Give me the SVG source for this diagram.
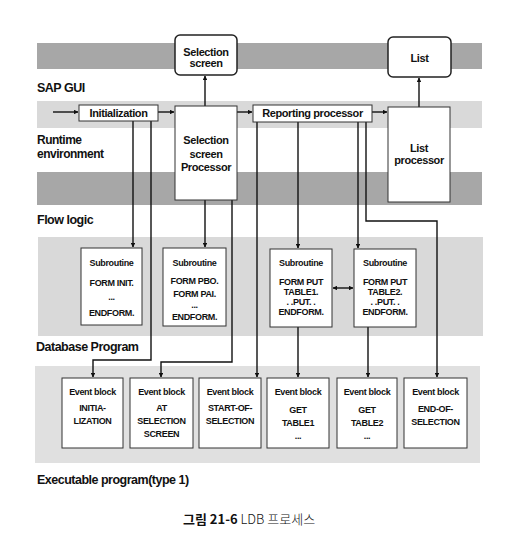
<svg xmlns="http://www.w3.org/2000/svg" width="510" height="555" viewBox="0 0 510 555">
<style>
.bg{fill:#ffffff}
.dark{fill:#a7a7a7}
.light{fill:#d9d9d9}
.lighter{fill:#e0e0e0}
.box{fill:#ffffff;stroke:#333333;stroke-width:1}
.rbox{fill:#ffffff;stroke:#222222;stroke-width:1.5}
.lbl{font-family:"Liberation Sans",Arial,sans-serif;font-weight:bold;font-size:12.5px;letter-spacing:-0.5px;fill:#111111}
.t{font-family:"Liberation Sans",Arial,sans-serif;font-weight:bold;font-size:11px;letter-spacing:-0.4px;fill:#111111;text-anchor:middle}
.s{font-family:"Liberation Sans",Arial,sans-serif;font-weight:bold;font-size:9px;letter-spacing:-0.35px;fill:#111111;text-anchor:middle}
.cap{font-family:"Noto Sans CJK KR","Liberation Sans",sans-serif;font-size:13px;fill:#111111}
.c{fill:none;stroke:#111111;stroke-width:1.4}
</style>
<defs>
<marker id="ah" viewBox="0 0 10 10" refX="9" refY="5" markerWidth="4.5" markerHeight="4.5" orient="auto-start-reverse" markerUnits="userSpaceOnUse">
<path d="M0,0 L10,5 L0,10 z" fill="#111111"/>
</marker>
</defs>
<rect class="bg" x="0" y="0" width="510" height="555"/>
<!-- bands -->
<rect class="dark" x="37" y="43" width="445" height="26"/>
<rect class="light" x="37" y="101" width="445" height="27"/>
<rect class="dark" x="37" y="172" width="445" height="33"/>
<rect class="light" x="38" y="237" width="445" height="99"/>
<rect class="lighter" x="35" y="366" width="445" height="97"/>
<!-- layer labels -->
<text class="lbl" x="37" y="92">SAP GUI</text>
<text class="lbl" x="37" y="144" style="font-size:12px">Runtime</text>
<text class="lbl" x="37" y="158" style="font-size:12px">environment</text>
<text class="lbl" x="37" y="224">Flow logic</text>
<text class="lbl" x="36" y="351">Database Program</text>
<text class="lbl" x="37" y="484">Executable program(type 1)</text>

<g id="connectors">
<line class="c" x1="53" y1="112" x2="78" y2="112" marker-end="url(#ah)"/>
<line class="c" x1="158" y1="112" x2="174" y2="112" marker-end="url(#ah)"/>
<line class="c" x1="237" y1="112" x2="252" y2="112" marker-end="url(#ah)"/>
<line class="c" x1="372" y1="112" x2="387" y2="112" marker-end="url(#ah)"/>
<line class="c" x1="205" y1="106" x2="205" y2="76" marker-end="url(#ah)"/>
<line class="c" x1="419" y1="107" x2="419" y2="78" marker-end="url(#ah)"/>
<line class="c" x1="133" y1="121" x2="133" y2="247" marker-end="url(#ah)"/>
<polyline class="c" points="151,121 151,360 93,360 93,377" marker-end="url(#ah)"/>
<line class="c" x1="205" y1="200" x2="205" y2="247" marker-end="url(#ah)"/>
<polyline class="c" points="232,200 232,362 161,362 161,377" marker-end="url(#ah)"/>
<line class="c" x1="257" y1="122" x2="257" y2="377" marker-end="url(#ah)"/>
<line class="c" x1="298" y1="122" x2="298" y2="248" marker-end="url(#ah)"/>
<line class="c" x1="358" y1="122" x2="358" y2="248" marker-end="url(#ah)"/>
<polyline class="c" points="366,122 366,221 437,221 437,377" marker-end="url(#ah)"/>
<line class="c" x1="333" y1="288" x2="353" y2="288" marker-start="url(#ah)" marker-end="url(#ah)"/>
<line class="c" x1="298" y1="327" x2="298" y2="377" marker-end="url(#ah)"/>
<line class="c" x1="368" y1="327" x2="368" y2="377" marker-end="url(#ah)"/>
</g>

<g id="selection-screen">
<rect class="rbox" x="175" y="35" width="62" height="40" rx="5"/>
<text class="t" x="206" y="56">Selection</text>
<text class="t" x="206" y="67">screen</text>
</g>
<g id="list">
<rect class="rbox" x="388" y="37" width="63" height="40" rx="5"/>
<text class="t" x="419.5" y="62">List</text>
</g>
<g id="initialization">
<rect class="box" x="79" y="105" width="79" height="16"/>
<text class="t" x="118.5" y="117">Initialization</text>
</g>
<g id="selection-screen-processor">
<rect class="box" x="175" y="106" width="62" height="94"/>
<text class="t" x="206" y="144">Selection</text>
<text class="t" x="206" y="158">screen</text>
<text class="t" x="206" y="171">Processor</text>
</g>
<g id="reporting-processor">
<rect class="box" x="253" y="105" width="119" height="17"/>
<text class="t" x="312.5" y="117">Reporting processor</text>
</g>
<g id="list-processor">
<rect class="box" x="388" y="107" width="62" height="95"/>
<text class="t" x="419" y="152">List</text>
<text class="t" x="419" y="164">processor</text>
</g>

<g id="sub-init">
<rect class="box" x="81" y="248" width="61" height="77"/>
<text class="s" x="111.5" y="266">Subroutine</text>
<text class="s" x="111.5" y="286">FORM INIT.</text>
<text class="s" x="111.5" y="300">...</text>
<text class="s" x="111.5" y="316">ENDFORM.</text>
</g>
<g id="sub-pbo-pai">
<rect class="box" x="163" y="248" width="63" height="78"/>
<text class="s" x="194.5" y="266">Subroutine</text>
<text class="s" x="194.5" y="284">FORM PBO.</text>
<text class="s" x="194.5" y="297">FORM PAI.</text>
<text class="s" x="194.5" y="308">...</text>
<text class="s" x="194.5" y="320">ENDFORM.</text>
</g>
<g id="sub-table1">
<rect class="box" x="270" y="249" width="62" height="78"/>
<text class="s" x="301" y="266">Subroutine</text>
<text class="s" x="301" y="285">FORM PUT</text>
<text class="s" x="301" y="295">TABLE1.</text>
<text class="s" x="301" y="305">. .PUT. .</text>
<text class="s" x="301" y="315">ENDFORM.</text>
</g>
<g id="sub-table2">
<rect class="box" x="354" y="249" width="62" height="78"/>
<text class="s" x="385" y="266">Subroutine</text>
<text class="s" x="385" y="285">FORM PUT</text>
<text class="s" x="385" y="295">TABLE2.</text>
<text class="s" x="385" y="305">. .PUT. .</text>
<text class="s" x="385" y="315">ENDFORM.</text>
</g>

<g id="eb-initialization">
<rect class="box" x="62" y="378" width="61" height="70"/>
<text class="s" x="92.5" y="395">Event block</text>
<text class="s" x="92.5" y="411">INITIA-</text>
<text class="s" x="92.5" y="424">LIZATION</text>
</g>
<g id="eb-at-selection-screen">
<rect class="box" x="130" y="378" width="63" height="70"/>
<text class="s" x="161.5" y="395">Event block</text>
<text class="s" x="161.5" y="411">AT</text>
<text class="s" x="161.5" y="424">SELECTION</text>
<text class="s" x="161.5" y="437">SCREEN</text>
</g>
<g id="eb-start-of-selection">
<rect class="box" x="199" y="378" width="62" height="70"/>
<text class="s" x="230" y="395">Event block</text>
<text class="s" x="230" y="411">START-OF-</text>
<text class="s" x="230" y="424">SELECTION</text>
</g>
<g id="eb-get-table1">
<rect class="box" x="267" y="378" width="62" height="70"/>
<text class="s" x="298" y="395">Event block</text>
<text class="s" x="298" y="413">GET</text>
<text class="s" x="298" y="426">TABLE1</text>
<text class="s" x="298" y="439">...</text>
</g>
<g id="eb-get-table2">
<rect class="box" x="337" y="378" width="60" height="70"/>
<text class="s" x="367" y="395">Event block</text>
<text class="s" x="367" y="413">GET</text>
<text class="s" x="367" y="426">TABLE2</text>
<text class="s" x="367" y="439">...</text>
</g>
<g id="eb-end-of-selection">
<rect class="box" x="404" y="378" width="63" height="70"/>
<text class="s" x="435.5" y="395">Event block</text>
<text class="s" x="435.5" y="412">END-OF-</text>
<text class="s" x="435.5" y="425">SELECTION</text>
</g>

<text class="cap" x="183" y="524"><tspan font-weight="bold">그림 21-6</tspan><tspan font-weight="300"> LDB 프로세스</tspan></text>
</svg>
